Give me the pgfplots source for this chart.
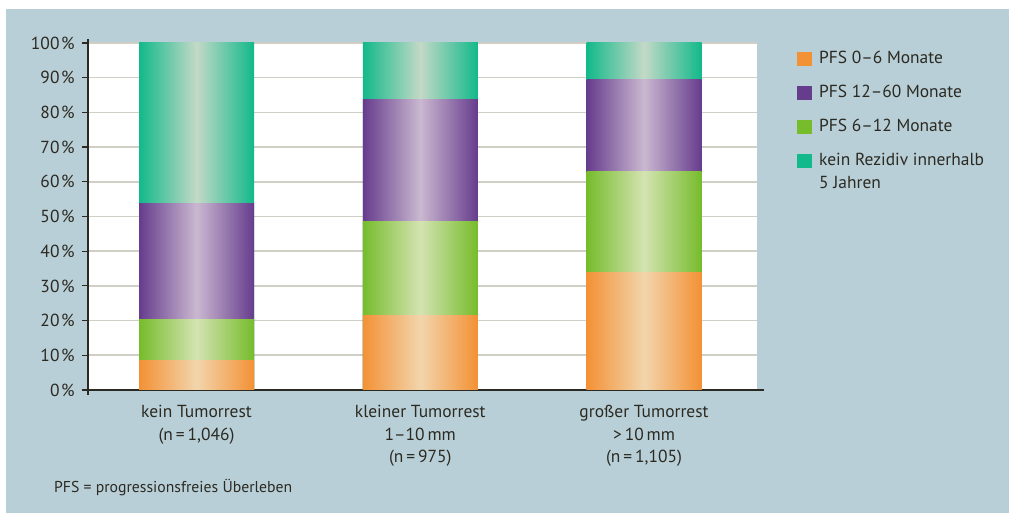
\documentclass[border=0pt]{standalone}
\usepackage{pgfplots}
\pgfplotsset{compat=1.18}
\usepackage{fontspec}
\setmainfont{PT Sans}
\definecolor{bg}{HTML}{B9CFD7}
\definecolor{txt}{HTML}{2B2A22}
\definecolor{gridc}{HTML}{D0CFC6}
\definecolor{orE}{HTML}{F39135}
\definecolor{orM}{HTML}{F2D5AC}
\definecolor{grE}{HTML}{76BC2B}
\definecolor{grM}{HTML}{D4E3B2}
\definecolor{puE}{HTML}{663C8D}
\definecolor{puM}{HTML}{CAB8D0}
\definecolor{teE}{HTML}{12B98A}
\definecolor{teM}{HTML}{C3D9C7}

\begin{document}
\begin{tikzpicture}[x=1bp,y=1bp]
\useasboundingbox (0,0) rectangle (1009,515);
\fill[white] (0,0) rectangle (1009,515);
\fill[bg] (6,2) rectangle (1009,506);
\begin{axis}[
  at={(88bp,125bp)}, anchor=south west,
  scale only axis, width=669bp, height=347bp,
  ybar, bar shift=0pt, bar width=115bp,
  seg/.style 2 args={draw=none, left color=#1, right color=#1, middle color=#2},
  xmin=-0.485, xmax=2.505, ymin=0, ymax=100,
  xtick={0,1,2},
  xticklabels={{kein Tumorrest\\(n\,=\,1,046)},
               {kleiner Tumorrest\\1–10\,mm\\(n\,=\,975)},
               {großer Tumorrest\\>\,10\,mm\\(n\,=\,1,105)}},
  xticklabel style={align=center, font=\fontsize{17.5}{22.5}\selectfont, text=txt, yshift=-6bp},
  ytick={0,10,...,100},
  yticklabel={\pgfmathprintnumber{\tick}\kern1.5bp\%},
  /pgf/number format/assume math mode=true,
  yticklabel style={font=\fontsize{17.5}{20}\selectfont, text=txt, xshift=-4bp},
  axis background/.style={fill=white},
  ymajorgrids, grid style={gridc, line width=1.6bp},
  axis x line*=bottom, axis y line*=left,
  x axis line style={txt, line width=1.2bp, shorten >=-7bp, shorten <=-3bp},
  y axis line style={txt, line width=1.2bp, shorten >=-4bp, shorten <=-5bp},
  tick align=outside, major tick length=6bp,
  ytick style={txt, line width=1.2bp},
  xtick style={draw=none},
  legend cell align=left,
  legend style={draw=none, fill=none, at={(1.0598,0.983)}, anchor=north west,
    inner sep=0pt, row sep=0bp, column sep=7bp,
    font=\fontsize{17.5}{24}\selectfont, text=txt,
    nodes={inner sep=0pt, text height=14bp, text depth=20bp}},
  legend image code/.code={\fill[#1] (0bp,0bp) rectangle (15bp,14bp);},
]
\addlegendimage{fill=orE, draw=none}
\addlegendentry{PFS 0–6 Monate}
\addlegendimage{fill=puE, draw=none}
\addlegendentry{PFS 12–60 Monate}
\addlegendimage{fill=grE, draw=none}
\addlegendentry{PFS 6–12 Monate}
\addlegendimage{fill=teE, draw=none}
\addlegendentry{\begin{tabular}[t]{@{}l@{}}kein Rezidiv innerhalb\\5 Jahren\end{tabular}}

% cumulative tops, drawn from the top segment down
% kein Rezidiv innerhalb 5 Jahren
\addplot[seg={teE}{teM}] coordinates {(0,100)};
\addplot[seg={teE}{teM}] coordinates {(1,100)};
\addplot[seg={teE}{teM}] coordinates {(2,100)};
% PFS 12-60 Monate
\addplot[seg={puE}{puM}] coordinates {(0,53.6)};
\addplot[seg={puE}{puM}] coordinates {(1,83.6)};
\addplot[seg={puE}{puM}] coordinates {(2,89.6)};
% PFS 6-12 Monate
\addplot[seg={grE}{grM}] coordinates {(0,20.2)};
\addplot[seg={grE}{grM}] coordinates {(1,48.7)};
\addplot[seg={grE}{grM}] coordinates {(2,62.9)};
% PFS 0-6 Monate
\addplot[seg={orE}{orM}] coordinates {(0,8.6)};
\addplot[seg={orE}{orM}] coordinates {(1,21.6)};
\addplot[seg={orE}{orM}] coordinates {(2,33.8)};
\end{axis}
\node[anchor=base west, inner sep=0pt, text=txt, font=\fontsize{15.8}{18}\selectfont]
  at (54,22) {PFS = progressionsfreies Überleben};
\end{tikzpicture}
\end{document}
